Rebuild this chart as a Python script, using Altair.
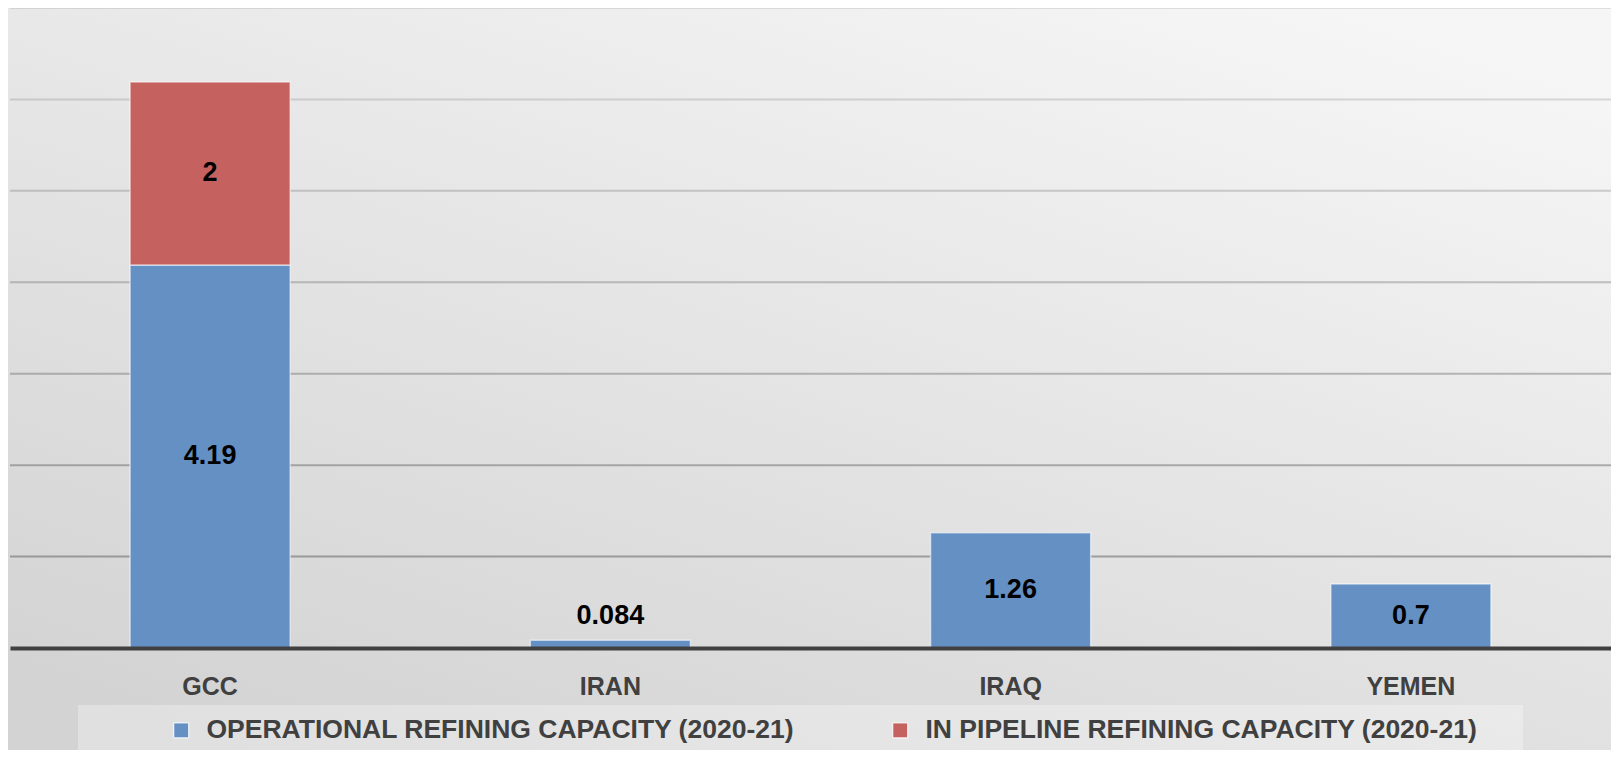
import altair as alt
import pandas as pd

# ---- data ----
regions = ["GCC", "IRAN", "IRAQ", "YEMEN"]
operational = [4.19, 0.084, 1.26, 0.7]
pipeline = [2, None, None, None]
series_names = ["OPERATIONAL REFINING CAPACITY (2020-21)",
                "IN PIPELINE REFINING CAPACITY (2020-21)"]
series_colors = ["#6490c4", "#c5625f"]
grid_ticks = [1, 2, 3, 4, 5, 6, 7]
y_max = 7

rows = []
for i, r in enumerate(regions):
    for k, vals in enumerate([operational, pipeline]):
        v = vals[i]
        if v is not None:
            rows.append({"region": r, "series": series_names[k], "order": k, "value": v})
df = pd.DataFrame(rows)
grid_df = pd.DataFrame({"v": grid_ticks})

W, H = 1601, 640
FONT = "Liberation Sans"

# background gradient (decoration spanning the whole svg)
bg = alt.Chart(alt.Data(values=[{"a": 1}])).mark_rect(
    fill=alt.Gradient(
        gradient="linear", x1=0.15, y1=1, x2=0.85, y2=0,
        stops=[alt.GradientStop(offset=0, color="#d3d3d3"),
               alt.GradientStop(offset=1, color="#f6f6f6")]),
).encode(x=alt.value(-2), x2=alt.value(W), y=alt.value(0), y2=alt.value(H + 102))

# lighter band behind the legend
legend_box = alt.Chart(alt.Data(values=[{"a": 1}])).mark_rect(
    fill="#ffffff", opacity=0.3
).encode(x=alt.value(68), x2=alt.value(1513), y=alt.value(697), y2=alt.value(H + 102))

yscale = alt.Scale(domain=[0, y_max], nice=False, zero=True)

grid = alt.Chart(grid_df).mark_rule(color="#5a5a5a", strokeWidth=2).encode(
    y=alt.Y("v:Q", scale=yscale, axis=None),
    x=alt.value(0), x2=alt.value(W),
    opacity=alt.Opacity("v:Q", scale=alt.Scale(domain=[1, 7], range=[0.5, 0.15]), legend=None),
)

base = alt.Chart(df).transform_stack(
    stack="value", groupby=["region"], as_=["y0", "y1"],
    sort=[alt.SortField("order", order="ascending")],
).transform_calculate(
    label_y="datum.value < 0.3 ? datum.y1 + 0.27 : (datum.y0 + datum.y1) / 2"
)

xaxis = alt.Axis(labelAngle=0, ticks=False, grid=False, zindex=1,
                 labelFont=FONT, labelFontSize=25, labelFontWeight="bold",
                 labelColor="#404040", domainColor="#404040", domainWidth=4,
                 labelPadding=26)
xscale = alt.Scale(paddingInner=0.6, paddingOuter=0.3)

bars = base.mark_bar(stroke="#ffffff", strokeOpacity=0.55, strokeWidth=1.5).encode(
    x=alt.X("region:N", sort=regions, title=None, scale=xscale, axis=xaxis),
    y=alt.Y("y0:Q", scale=yscale, axis=None),
    y2="y1:Q",
    color=alt.Color("series:N", scale=alt.Scale(domain=series_names, range=series_colors),
                    legend=alt.Legend(title=None, orient="none", direction="horizontal",
                                      legendX=158, legendY=709,
                                      labelFont=FONT, labelFontSize=26.5, labelFontWeight="bold",
                                      labelColor="#404040", symbolType="square",
                                      symbolSize=225, symbolStrokeColor="#ffffff",
                                      symbolStrokeWidth=1, labelOffset=12,
                                      columnPadding=92, labelLimit=0, padding=0)),
    order=alt.Order("order:Q"),
)

labels = base.mark_text(font=FONT, fontSize=27, fontWeight="bold", color="#000000",
                        baseline="middle").encode(
    x=alt.X("region:N", sort=regions, title=None, scale=xscale, axis=xaxis),
    y=alt.Y("label_y:Q", scale=yscale, axis=None),
    text=alt.Text("value:Q", format="~g"),
)

chart = alt.layer(bg, legend_box, grid, bars, labels).properties(
    width=W, height=H,
    autosize=alt.AutoSizeParams(type="none"),
    padding={"left": 2, "top": 0, "right": 0, "bottom": 102},
    background="#e6e6e6",
).configure_view(stroke=None, fill=None)

chart.save("out.html", embed_options={"renderer": "svg", "actions": False})
